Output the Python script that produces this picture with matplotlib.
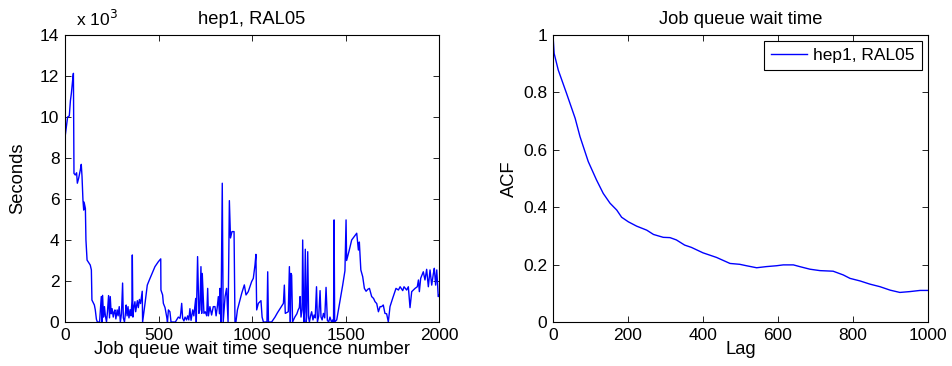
import matplotlib
matplotlib.use("Agg")
import matplotlib.pyplot as plt
from matplotlib.ticker import FuncFormatter

plt.rcParams['font.family'] = ['Liberation Sans', 'DejaVu Sans']

# Job queue wait time (seconds) against sequence number
seq_idx = [0, 7, 14, 23, 29, 34, 43, 45, 48, 55, 62, 66, 73, 82, 87, 91, 96, 100, 102, 109,
           112, 118, 135, 141, 144, 157, 162, 168, 173, 185, 189, 194, 198, 201, 206, 211, 216,
           222, 227, 233, 238, 242, 247, 252, 258, 263, 267, 272, 279, 284, 290, 296, 302, 308,
           312, 318, 324, 327, 332, 337, 342, 348, 353, 358, 360, 363, 368, 374, 378, 383, 387,
           392, 398, 404, 410, 413, 415, 428, 440, 451, 466, 481, 499, 512, 513, 522, 526, 535,
           544, 548, 553, 561, 567, 590, 606, 615, 619, 624, 629, 636, 642, 650, 656, 662, 668,
           674, 683, 689, 699, 702, 709, 716, 721, 727, 731, 734, 743, 750, 758, 763, 767, 775,
           784, 793, 802, 808, 814, 820, 826, 829, 834, 841, 846, 851, 856, 864, 872, 879, 885,
           893, 904, 909, 914, 922, 931, 945, 959, 968, 980, 989, 998, 1007, 1016, 1021, 1025,
           1034, 1048, 1054, 1061, 1080, 1084, 1088, 1105, 1123, 1136, 1150, 1168, 1173, 1178,
           1194, 1200, 1205, 1208, 1212, 1217, 1229, 1240, 1247, 1253, 1257, 1262, 1268, 1271,
           1277, 1281, 1285, 1290, 1293, 1298, 1303, 1307, 1313, 1319, 1326, 1332, 1338, 1345,
           1350, 1357, 1364, 1369, 1375, 1382, 1389, 1396, 1403, 1410, 1417, 1425, 1432, 1436,
           1439, 1442, 1453, 1470, 1485, 1497, 1503, 1506, 1520, 1533, 1545, 1560, 1569, 1574,
           1582, 1592, 1601, 1610, 1620, 1628, 1640, 1650, 1658, 1667, 1676, 1685, 1693, 1702,
           1711, 1720, 1729, 1738, 1752, 1770, 1783, 1792, 1806, 1813, 1827, 1836, 1845, 1854,
           1872, 1884, 1890, 1895, 1902, 1916, 1925, 1934, 1943, 1952, 1961, 1970, 1975, 1982,
           1988, 1996, 2000]
wait_s = [9000, 9500, 10000, 10050, 10800, 11150, 12000, 12130, 7250, 7170, 7280, 6770, 7010,
          7420, 7690, 7100, 5950, 5460, 5850, 5540, 4000, 3020, 2780, 2540, 1070, 830, 590, 130,
          0, 0, 590, 1240, 0, 1300, 240, 750, 300, 0, 500, 1290, 200, 1240, 400, 650, 240, 500,
          590, 150, 590, 300, 750, 0, 400, 1900, 200, 0, 500, 830, 300, 750, 200, 600, 300, 1000,
          3270, 240, 700, 990, 500, 800, 1040, 700, 1100, 900, 1320, 1500, 0, 910, 1800, 2050,
          2370, 2700, 2940, 3080, 1560, 1320, 910, 700, 240, 0, 590, 500, 0, 0, 240, 180, 420,
          910, 180, 50, 240, 100, 300, 100, 650, 80, 590, 300, 1150, 0, 3190, 420, 600, 2700,
          420, 2370, 420, 500, 300, 1640, 300, 750, 340, 750, 750, 300, 700, 1240, 400, 1640, 0,
          6770, 0, 600, 1240, 1640, 0, 5920, 4100, 4410, 4410, 0, 0, 590, 910, 1400, 1810, 1320,
          1480, 1720, 1970, 2130, 2780, 3300, 590, 910, 1040, 240, 0, 0, 2450, 0, 0, 240, 450,
          650, 910, 1800, 420, 500, 2700, 0, 2370, 2290, 0, 240, 400, 590, 700, 1240, 240, 600,
          4000, 0, 500, 3550, 0, 300, 3430, 200, 0, 300, 500, 100, 340, 200, 1720, 0, 300, 1530,
          240, 100, 420, 200, 1690, 80, 0, 240, 0, 100, 0, 4980, 0, 100, 1000, 1800, 2500, 4980,
          3000, 3500, 4000, 4150, 4330, 3510, 3900, 2540, 2210, 1640, 1500, 1600, 1640, 1240,
          1150, 990, 900, 500, 750, 750, 830, 420, 400, 0, 750, 1150, 1640, 1560, 1720, 1530,
          1720, 1560, 1720, 700, 1480, 1640, 1720, 2050, 1480, 2130, 2450, 2050, 2570, 1720,
          2540, 1800, 2370, 2620, 1800, 2540, 1240, 1300]

# Autocorrelation of the wait-time series
lags = [0, 3, 14, 36, 59, 72, 94, 116, 134, 152, 170, 183, 201, 223, 250, 268, 294, 312, 329,
        351, 369, 400, 436, 472, 498, 516, 543, 569, 596, 614, 641, 658, 685, 712, 747, 774,
        792, 819, 845, 872, 899, 925, 952, 979, 1000]
acf = [1.0, 0.936, 0.878, 0.797, 0.710, 0.646, 0.559, 0.495, 0.448, 0.414, 0.390, 0.365,
       0.349, 0.334, 0.320, 0.305, 0.295, 0.294, 0.286, 0.268, 0.260, 0.241, 0.225, 0.204,
       0.201, 0.196, 0.189, 0.193, 0.196, 0.199, 0.199, 0.193, 0.184, 0.179, 0.177, 0.164,
       0.152, 0.143, 0.132, 0.123, 0.111, 0.103, 0.106, 0.110, 0.110]

left_xticks = [0, 500, 1000, 1500, 2000]
left_yticks = [0, 2000, 4000, 6000, 8000, 10000, 12000, 14000]
right_xticks = [0, 200, 400, 600, 800, 1000]
right_yticks = [0, 0.2, 0.4, 0.6, 0.8, 1.0]

BLUE = '#0000ff'
FS = 12.5      # tick labels
FS_LAB = 13.2  # titles and axis labels

W, H = 952, 366
fig = plt.figure(figsize=(W / 100, H / 100), dpi=100)
ax1 = fig.add_axes([65 / W, 1 - 322 / H, 374 / W, 287 / H])
ax2 = fig.add_axes([553 / W, 1 - 322 / H, 375 / W, 287 / H])


def style(ax):
    ax.tick_params(direction='in', top=True, right=True, length=4, width=0.6,
                   labelsize=FS, pad=4, colors='black')
    for s in ax.spines.values():
        s.set_linewidth(0.8)


ax1.plot(seq_idx, wait_s, color=BLUE, lw=1.0)
ax1.set_xlim(0, 2000)
ax1.set_ylim(0, 14000)
ax1.set_xticks(left_xticks)
ax1.set_yticks(left_yticks)
ax1.yaxis.set_major_formatter(FuncFormatter(lambda v, p: f"{v / 1000:g}"))
ax1.set_title('hep1, RAL05', fontsize=FS_LAB, pad=8)
ax1.set_xlabel('Job queue wait time sequence number', fontsize=FS_LAB, labelpad=-1)
ax1.set_ylabel('Seconds', fontsize=FS_LAB, labelpad=10)
ax1.text(0.029, 1.022, r'x 10$^3$', transform=ax1.transAxes, fontsize=FS,
         ha='left', va='bottom')
style(ax1)

ax2.plot(lags, acf, color=BLUE, lw=1.0, label='hep1, RAL05')
ax2.set_xlim(0, 1000)
ax2.set_ylim(0, 1)
ax2.set_xticks(right_xticks)
ax2.set_yticks(right_yticks)
ax2.yaxis.set_major_formatter(FuncFormatter(lambda v, p: f"{v:g}"))
ax2.set_title('Job queue wait time', fontsize=FS_LAB, pad=8)
ax2.set_xlabel('Lag', fontsize=FS_LAB, labelpad=-1)
ax2.set_ylabel('ACF', fontsize=FS_LAB, labelpad=4)
leg = ax2.legend(loc='upper right', fontsize=FS, fancybox=False, framealpha=1,
                 edgecolor='black', borderaxespad=0.35, handlelength=2.1,
                 borderpad=0.4, handletextpad=0.35)
leg.get_frame().set_linewidth(0.8)
style(ax2)

fig.savefig('out.png', dpi=100)
